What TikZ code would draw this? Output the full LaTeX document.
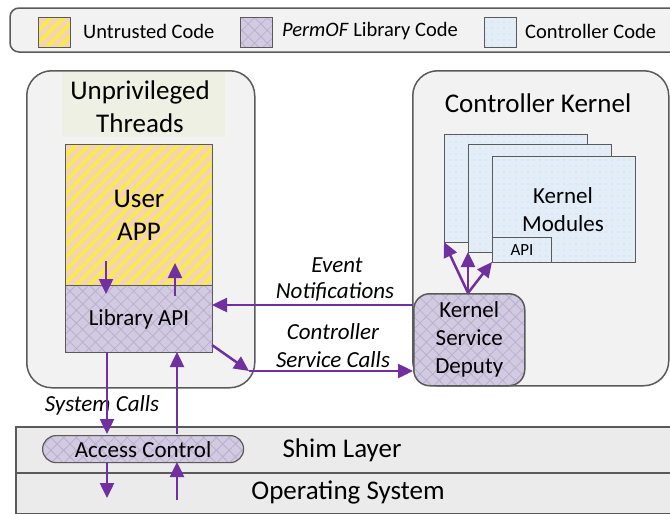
\documentclass[tikz,border=0pt]{standalone}
\usepackage{fontspec}
\setmainfont{Carlito}
\usetikzlibrary{patterns.meta,arrows.meta}
\definecolor{peach}{HTML}{F6D4B0}
\definecolor{stripe}{HTML}{F6EE40}
\definecolor{lilac}{HTML}{D2CAE0}
\definecolor{lilacdark}{HTML}{BBAFCF}
\definecolor{paleblue}{HTML}{E3EDF7}
\definecolor{dotblue}{HTML}{C2D3E6}
\definecolor{panel}{HTML}{F2F2F2}
\definecolor{titlebg}{HTML}{EEF0E4}
\definecolor{boxgray}{HTML}{5A5A5A}
\definecolor{flowpurple}{HTML}{7030A0}
\definecolor{band}{HTML}{EBEBEB}
\tikzset{
  graybox/.style={draw=boxgray, line width=1.5pt, fill=panel, rounded corners=25pt, inner sep=0pt},
  untrusted/.style={preaction={fill=peach}, preaction={pattern={Lines[angle=45,distance=9pt,line width=3.2pt]}, pattern color=stripe}},
  library/.style={preaction={fill=lilac}, preaction={pattern={Hatch[angle=45,distance=9pt,line width=0.8pt]}, pattern color=lilacdark}},
  controller/.style={preaction={fill=paleblue}, preaction={pattern={Dots[distance=6pt,radius=0.7pt]}, pattern color=dotblue}},
  flow/.style={draw=flowpurple, line width=2.5pt, -{Triangle[length=15pt,width=14pt]}},
  bigtxt/.style={font=\fontsize{27}{33}\selectfont, align=center},
  midtxt/.style={font=\fontsize{23}{28}\selectfont, align=center},
  legtxt/.style={font=\fontsize{20.5}{24}\selectfont, anchor=west, inner sep=0pt},
  lbltxt/.style={font=\fontsize{23}{28}\selectfont\itshape, inner sep=0pt},
  swatch/.style={draw=boxgray, line width=0.8pt, minimum width=32pt, minimum height=30pt, inner sep=0pt},
  plainbox/.style={draw=boxgray, line width=1pt, inner sep=0pt, anchor=north west},
}
\begin{document}
\begin{tikzpicture}[x=1pt,y=-1pt]
\useasboundingbox (0,0) rectangle (670,514);

% legend
\draw[draw=boxgray, line width=1.5pt, fill=panel, rounded corners=9pt] (10,8) rectangle (690,52);
\node[swatch, untrusted] (swU) at (54,32) {};
\node[legtxt] (lgU) at (83,31) {Untrusted Code};
\node[swatch, library] (swL) at (256,32) {};
\node[legtxt] (lgL) at (282,31) {\textit{PermOF} Library Code};
\node[swatch, controller] (swC) at (500,32) {};
\node[legtxt] (lgC) at (525,31) {Controller Code};

% unprivileged threads
\node[graybox, anchor=north west, minimum width=228pt, minimum height=317pt] (unpriv) at (26,70) {};
\node[fill=titlebg, anchor=north west, minimum width=163pt, minimum height=65pt, inner sep=0pt] (titlebg) at (62,72) {};
\node[bigtxt] (unprivT) at (140,107) {Unprivileged\\Threads};
\node[plainbox, untrusted, minimum width=147pt, minimum height=141pt, bigtxt] (app) at (65,144) {User\\APP};
\node[plainbox, library, minimum width=147pt, minimum height=67pt, midtxt] (lib) at (65,285) {Library API};

% controller kernel
\node[graybox, anchor=north west, minimum width=256pt, minimum height=315pt] (ctrl) at (412,70) {};
\node[bigtxt] (ctrlT) at (538,103) {Controller Kernel};
\node[plainbox, controller, minimum width=143pt, minimum height=108pt] (mod1) at (444,134) {};
\node[plainbox, controller, minimum width=143pt, minimum height=108pt] (mod2) at (468,144) {};
\node[plainbox, controller, minimum width=143pt, minimum height=106pt] (mod3) at (492,156) {};
\node[midtxt] (modT) at (563,210) {Kernel\\Modules};
\node[plainbox, controller, minimum width=59pt, minimum height=25pt, font=\fontsize{17}{20}\selectfont] (api) at (492,237) {API};

% deputy
\node[draw=boxgray, line width=1.5pt, library, rounded corners=16pt, anchor=north west, minimum width=111pt, minimum height=92pt, inner sep=0pt, midtxt] (deputy) at (413,293) {Kernel\\Service\\Deputy};

% shim and OS
\node[draw=boxgray, line width=1.5pt, fill=band, anchor=north west, minimum width=680pt, minimum height=46pt, inner sep=0pt] (shim) at (15,426) {};
\node[draw=boxgray, line width=1.5pt, fill=band, anchor=north west, minimum width=680pt, minimum height=41pt, inner sep=0pt] (os) at (15,472) {};
\node[bigtxt] (shimT) at (342,450) {Shim Layer};
\node[bigtxt] (osT) at (348,492) {Operating System};
\node[draw=boxgray, line width=1.2pt, library, rounded corners=13.5pt, anchor=north west, minimum width=201pt, minimum height=27pt, inner sep=0pt, midtxt] (acc) at (42,435) {Access Control};

% labels
\node[lbltxt] (lblEv) at (337,265) {Event};
\node[lbltxt] (lblNo) at (335,292) {Notifications};
\node[lbltxt] (lblCo) at (333,332) {Controller};
\node[lbltxt] (lblSe) at (333,360) {Service Calls};
\node[lbltxt] (lblSy) at (102,405) {System Calls};

% coordinates
\coordinate (appDownS) at (106,261);
\coordinate (appDownE) at (106,294);
\coordinate (appUpS) at (175,296);
\coordinate (appUpE) at (175,263);
\coordinate (evS) at (413,305);
\coordinate (evE) at (212,305);
\coordinate (csS) at (212,345);
\coordinate (csM) at (249,371);
\coordinate (csE) at (413,371);
\coordinate (depTop) at (468,293);
\coordinate (m1c) at (444,242);
\coordinate (m2c) at (468,252);
\coordinate (m3c) at (492,262);
\coordinate (sd1S) at (107,352);
\coordinate (sd1E) at (107,434);
\coordinate (sd2S) at (107,462);
\coordinate (sd2E) at (107,498);
\coordinate (su1S) at (177,500);
\coordinate (su1E) at (177,462);
\coordinate (su2S) at (177,434);
\coordinate (su2E) at (177,352);

% arrows
\draw[flow] (appDownS) -- (appDownE);
\draw[flow] (appUpS) -- (appUpE);
\draw[flow] (evS) -- (evE);
\draw[flow] (csS) -- (csM);
\draw[flow] (csM) -- (csE);
\draw[flow] (depTop) -- (m1c);
\draw[flow] (depTop) -- (m2c);
\draw[flow] (depTop) -- (m3c);
\draw[flow] (sd1S) -- (sd1E);
\draw[flow] (sd2S) -- (sd2E);
\draw[flow] (su1S) -- (su1E);
\draw[flow] (su2S) -- (su2E);
\end{tikzpicture}
\end{document}
